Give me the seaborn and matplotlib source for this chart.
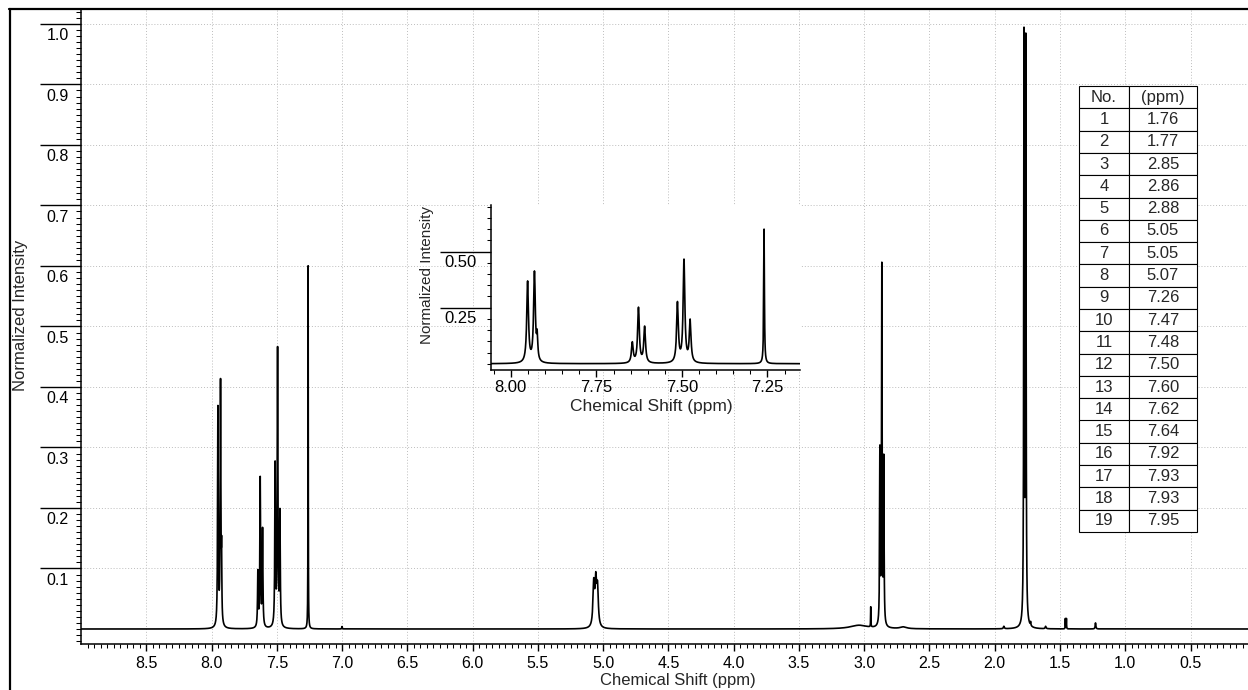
import numpy as np
import pandas as pd
import matplotlib
matplotlib.use("Agg")
import matplotlib.pyplot as plt
import seaborn as sns
from matplotlib.transforms import ScaledTranslation
from matplotlib.lines import Line2D

# ---------------- data ----------------
# resolved lines of the 1H spectrum: position (ppm), normalized height, half width (ppm)
peak_ppm = [7.951, 7.931, 7.923, 7.645, 7.627, 7.609, 7.513, 7.494, 7.476, 7.260, 7.000,
            5.072, 5.056, 5.043, 3.040, 2.950, 2.880, 2.865, 2.850, 2.700, 1.930,
            1.776, 1.762, 1.725, 1.610, 1.459, 1.451, 1.228]
peak_height = [0.360, 0.400, 0.100, 0.090, 0.245, 0.160, 0.265, 0.455, 0.185, 0.600, 0.004,
               0.070, 0.070, 0.060, 0.006, 0.033, 0.285, 0.590, 0.270, 0.003, 0.004,
               0.965, 0.955, 0.006, 0.004, 0.017, 0.017, 0.010]
peak_hwhm = [0.003, 0.003, 0.002, 0.003, 0.003, 0.003, 0.003, 0.003, 0.003, 0.0012, 0.002,
             0.007, 0.007, 0.007, 0.080, 0.0012, 0.0025, 0.0025, 0.0025, 0.030, 0.004,
             0.0025, 0.0025, 0.002, 0.004, 0.0012, 0.0012, 0.003]

# peak table
table_no = ["1", "2", "3", "4", "5", "6", "7", "8", "9", "10", "11", "12", "13", "14",
            "15", "16", "17", "18", "19"]
table_ppm = ["1.76", "1.77", "2.85", "2.86", "2.88", "5.05", "5.05", "5.07", "7.26", "7.47",
             "7.48", "7.50", "7.60", "7.62", "7.64", "7.92", "7.93", "7.93", "7.95"]
table_header = ["No.", "(ppm)"]

main_xticks = [8.5, 8.0, 7.5, 7.0, 6.5, 6.0, 5.5, 5.0, 4.5, 4.0, 3.5, 3.0, 2.5, 2.0, 1.5, 1.0, 0.5]
main_yticks = [0.1, 0.2, 0.3, 0.4, 0.5, 0.6, 0.7, 0.8, 0.9, 1.0]
inset_xticks = [8.00, 7.75, 7.50, 7.25]
inset_yticks = [0.25, 0.50]

# ---------------- spectrum line built from the peak list ----------------
ppm = np.union1d(np.arange(0.0, 9.05, 0.0002), np.array(peak_ppm))
intensity = np.zeros_like(ppm)
for p, h, w in zip(peak_ppm, peak_height, peak_hwhm):
    intensity += h / (1.0 + ((ppm - p) / w) ** 2)
df = pd.DataFrame({"ppm": ppm, "intensity": intensity})

# ---------------- style ----------------
sns.set_style("white")
plt.rcParams["font.family"] = ["Liberation Sans", "DejaVu Sans"]
narrow = ["Liberation Sans Narrow", "Liberation Sans", "DejaVu Sans"]

W, H = 1248, 690
fig = plt.figure(figsize=(W / 100, H / 100), dpi=100)

def px_axes(left, top, right, bottom):
    return [left / W, (H - bottom) / H, (right - left) / W, (bottom - top) / H]

# ---------------- main axes ----------------
ax = fig.add_axes(px_axes(81, 10, W, 644))
sns.lineplot(data=df, x="ppm", y="intensity", ax=ax, color="black", linewidth=1.2,
             sort=False, estimator=None)
ax.set_xlim(9.0, 0.06)
ax.set_ylim(-0.0248, 1.023)
for s in ["top", "right"]:
    ax.spines[s].set_visible(False)
for s in ["left", "bottom"]:
    ax.spines[s].set_color("black")
    ax.spines[s].set_linewidth(1.1)

ax.set_xticks(main_xticks, [f"{v:.1f}" for v in main_xticks])
ax.set_xticks(np.round(np.arange(0.10, 9.0, 0.05), 2), minor=True)
ax.set_yticks(main_yticks, [f"{v:.1f}" for v in main_yticks])
ax.set_yticks(np.round(np.arange(-0.02, 1.025, 0.01), 2), minor=True)

ax.tick_params(axis="x", which="major", direction="out", length=5, width=1.0, pad=4,
               labelsize=11.5, color="black", labelcolor="black", bottom=True)
ax.tick_params(axis="x", which="minor", direction="out", length=3, width=0.75,
               color="black", bottom=True)
ax.tick_params(axis="y", which="major", direction="out", length=29.5, width=1.0, pad=-20.5,
               labelsize=11.5, color="black", labelcolor="black", left=True)
ax.tick_params(axis="y", which="minor", direction="out", length=3.6, width=0.75,
               color="black", left=True)
for lab in ax.get_yticklabels():
    lab.set_verticalalignment("top")
    lab.set_transform(lab.get_transform() + ScaledTranslation(0, -0.045, fig.dpi_scale_trans))

ax.grid(True, which="major", axis="both", linestyle=(0, (1, 2)), color="#bdbdbd", linewidth=0.7)
ax.set_axisbelow(True)

ax.set_xlabel("Chemical Shift (ppm)", fontsize=12, va="center")
ax.xaxis.set_label_coords((678 - 81) / (W - 81), (644 - 681) / 634)
ax.set_ylabel("Normalized Intensity", fontsize=12, family=narrow, va="center")
ax.yaxis.set_label_coords((21 - 81) / (W - 81), (644 - 315) / 634)

# ---------------- peak table ----------------
cells = [[n, v] for n, v in zip(table_no, table_ppm)]
tbl = ax.table(cellText=cells, colLabels=table_header, cellLoc="center",
               colWidths=[50 / 118, 68 / 118],
               bbox=[(1079 - 81) / (W - 81), (644 - 532) / 634, 118 / (W - 81), 446 / 634],
               zorder=5)
tbl.auto_set_font_size(False)
tbl.set_fontsize(12)
for cell in tbl.get_celld().values():
    cell.set_edgecolor("black")
    cell.set_linewidth(0.8)
    cell.set_facecolor("white")

# ---------------- inset (aromatic region) ----------------
axi = fig.add_axes(px_axes(491, 205, 800, 370), facecolor="white")
axi.set_zorder(4)
sns.lineplot(data=df, x="ppm", y="intensity", ax=axi, color="black", linewidth=1.2,
             sort=False, estimator=None)
axi.set_xlim(8.058, 7.155)
axi.set_ylim(-0.028, 0.708)
for s in ["top", "right"]:
    axi.spines[s].set_visible(False)
for s in ["left", "bottom"]:
    axi.spines[s].set_color("black")
    axi.spines[s].set_linewidth(1.1)
axi.set_xticks(inset_xticks, [f"{v:.2f}" for v in inset_xticks])
axi.set_xticks(np.round(np.arange(7.20, 8.06, 0.05), 2), minor=True)
axi.set_yticks(inset_yticks, [f"{v:.2f}" for v in inset_yticks])
axi.set_yticks(np.round(np.arange(0.0, 0.71, 0.05), 2), minor=True)
axi.tick_params(axis="x", which="major", direction="out", length=5, width=1.0, pad=2.5,
                labelsize=12, color="black", labelcolor="black", bottom=True)
axi.tick_params(axis="x", which="minor", direction="out", length=3, width=0.75,
                color="black", bottom=True)
axi.tick_params(axis="y", which="major", direction="out", length=36.5, width=1.0, pad=-26.5,
                labelsize=12, color="black", labelcolor="black", left=True)
axi.tick_params(axis="y", which="minor", direction="out", length=3, width=0.75,
                color="black", left=True)
for lab in axi.get_yticklabels():
    lab.set_verticalalignment("top")
    lab.set_transform(lab.get_transform() + ScaledTranslation(0, -0.03, fig.dpi_scale_trans))
axi.grid(False)
axi.set_xlabel("Chemical Shift (ppm)", fontsize=12.5, va="center")
axi.xaxis.set_label_coords((651.7 - 491) / 309, (370 - 406.7) / 165)
axi.set_ylabel("Normalized Intensity", fontsize=11, family=narrow, va="center")
axi.yaxis.set_label_coords((427 - 491) / 309, (370 - 275) / 165)

# ---------------- figure frame ----------------
fig.add_artist(Line2D([9 / W, 1.0], [1 - 9 / H, 1 - 9 / H], transform=fig.transFigure,
                      color="black", linewidth=1.6))
fig.add_artist(Line2D([10 / W, 10 / W], [0.0, 1 - 9 / H], transform=fig.transFigure,
                      color="black", linewidth=1.6))

fig.savefig("out.png", dpi=100)
